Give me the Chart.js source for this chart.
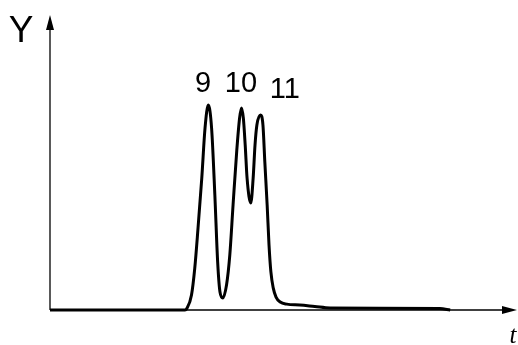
<!DOCTYPE html>
<html>
<head>
<meta charset="utf-8">
<script src="https://cdn.jsdelivr.net/npm/chart.js@4"></script>
<style>
  html, body { margin: 0; padding: 0; background: #fff; }
  #wrap { width: 518px; height: 345px; position: relative; }
</style>
</head>
<body>
<div id="wrap"><canvas id="c" width="518" height="345"></canvas></div>
<script>
// Retention time (arbitrary units) and detector signal Y (arbitrary units)
const times = [0, 28.9, 29.3, 30.3, 31.0, 31.7, 32.5, 33.2, 33.9, 34.6, 35.3, 35.9, 36.4, 37.0, 37.8, 38.5, 39.2, 40.0, 40.6, 41.0, 41.4, 41.8, 42.2, 43.0, 43.5, 43.9, 44.3, 45.1, 45.6, 46.0, 46.5, 46.9, 47.3, 47.8, 48.4, 49.3, 50.7, 53.5, 56.7, 60.0, 83.5, 85.7];
const signal = [0, 0, 0.5, 5.1, 14.2, 27.8, 44.7, 61.7, 69.5, 61.7, 39.0, 16.3, 6.1, 4.1, 8.5, 18.6, 35.6, 54.2, 65.1, 68.5, 65.1, 55.9, 44.7, 36.3, 44.7, 55.9, 62.7, 66.1, 62.7, 50.2, 35.6, 22.0, 12.9, 7.5, 4.4, 2.7, 2.0, 1.7, 1.2, 0.7, 0.5, 0];
// Peak labels and their anchor points (data units)
const peakLabels = ['9', '10', '11'];
const peakLabelT = [32.8, 40.9, 50.3];
const peakLabelY = [73.9, 73.9, 71.7];
const axisTitleY = 'Y';
const axisTitleX = 't';

const points = times.map((t, i) => ({ x: t, y: signal[i] }));

const axesPlugin = {
  id: 'axesArrows',
  beforeDatasetsDraw(chart) {
    const { ctx, chartArea: a } = chart;
    ctx.save();
    ctx.strokeStyle = '#000';
    ctx.fillStyle = '#000';
    ctx.lineWidth = 1.3;
    // Y axis
    ctx.beginPath();
    ctx.moveTo(a.left, a.bottom);
    ctx.lineTo(a.left, a.top + 12);
    ctx.stroke();
    ctx.beginPath();
    ctx.moveTo(a.left, a.top);
    ctx.lineTo(a.left - 4, a.top + 15);
    ctx.lineTo(a.left + 4, a.top + 15);
    ctx.closePath();
    ctx.fill();
    // X axis
    ctx.beginPath();
    ctx.moveTo(a.left, a.bottom);
    ctx.lineTo(a.right - 12, a.bottom);
    ctx.stroke();
    ctx.beginPath();
    ctx.moveTo(a.right, a.bottom);
    ctx.lineTo(a.right - 15, a.bottom - 4);
    ctx.lineTo(a.right - 15, a.bottom + 4);
    ctx.closePath();
    ctx.fill();
    ctx.restore();
  },
  afterDatasetsDraw(chart) {
    const { ctx, chartArea: a, scales } = chart;
    ctx.save();
    ctx.fillStyle = '#000';
    ctx.textAlign = 'center';
    ctx.textBaseline = 'alphabetic';
    ctx.font = '37px "Liberation Sans", Arial, sans-serif';
    ctx.fillText(axisTitleY, a.left - 29, a.top + 27);
    ctx.font = 'italic 25px "Liberation Serif", "Times New Roman", serif';
    ctx.fillText(axisTitleX, a.right - 4, a.bottom + 33);
    ctx.font = '29px "Liberation Sans", Arial, sans-serif';
    peakLabels.forEach((lab, i) => {
      ctx.fillText(lab, scales.x.getPixelForValue(peakLabelT[i]), scales.y.getPixelForValue(peakLabelY[i]));
    });
    ctx.restore();
  }
};

new Chart(document.getElementById('c'), {
  type: 'line',
  data: {
    datasets: [{
      data: points,
      borderColor: '#000',
      borderWidth: 3,
      pointRadius: 0,
      fill: false,
      clip: false,
      cubicInterpolationMode: 'monotone'
    }]
  },
  options: {
    responsive: false,
    animation: false,
    events: [],
    layout: { padding: { left: 50, right: 1, top: 15, bottom: 35 } },
    plugins: { legend: { display: false }, tooltip: { enabled: false } },
    scales: {
      x: { type: 'linear', min: 0, max: 100, display: false },
      y: { type: 'linear', min: 0, max: 100, display: false }
    }
  },
  plugins: [axesPlugin]
});
</script>
</body>
</html>
